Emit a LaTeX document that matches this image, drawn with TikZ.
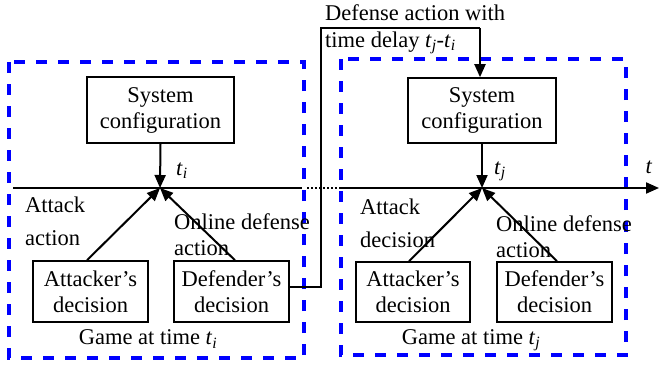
\documentclass[tikz,border=0pt]{standalone}
\usepackage{fontspec}
\setmainfont{Liberation Serif}
\usetikzlibrary{arrows.meta}
\newcommand\tsub[1]{\textit{t}\textsubscript{\textit{#1}}}
\begin{document}
\begin{tikzpicture}[x=1pt,y=-1pt,
  every node/.style={font=\fontsize{22.5}{26}\selectfont, inner sep=0pt},
  box/.style={draw, line width=1.6pt, align=center},
  gamebox/.style={draw=blue, line width=3.6pt, dash pattern=on 11pt off 11pt},
  arr/.style={line width=2pt, -{Triangle[length=13pt,width=11pt]}},
  ln/.style={line width=2pt},
  lbl/.style={align=left, anchor=west}]
\useasboundingbox (0,0) rectangle (660,367);
% game boxes
\draw[gamebox] (9,62) rectangle (304,358);
\draw[gamebox] (341,59) rectangle (626,355);
% time axis
\coordinate (a0) at (13,188);
\coordinate (a1) at (302,188);
\coordinate (a2) at (307,188);
\coordinate (a3) at (340,188);
\coordinate (a4) at (659,188);
\draw[ln] (a0) -- (a1);
\draw[line width=2pt, dotted] (a2) -- (a3);
\draw[arr] (a3) -- (a4);
\node (t) at (649,167) {\textit{t}};
% convergence points
\coordinate (cL) at (160,188);
\coordinate (cR) at (482,188);
% left game
\node[box, minimum width=147pt, minimum height=66pt] (sysL) at (160.5,110) {System\\configuration};
\node[box, minimum width=115pt, minimum height=61pt] (attL) at (90.5,291.5) {Attacker's\\decision};
\node[box, minimum width=115pt, minimum height=61pt] (defL) at (231.5,291.5) {Defender's\\decision};
\draw[arr] (sysL.south) -- (cL);
\draw[arr] (attL.north -| 87,0) -- (cL);
\draw[arr] (defL.north -| 235,0) -- (cL);
\node[anchor=west] (tiL) at (176,171) {\tsub{i}};
\node[lbl] (attlblL) at (25,221) {Attack\\[7pt]action};
\node[lbl] (deflblL) at (174,235) {Online defense\\action};
\node (gameL) at (148,339) {Game at time \tsub{i}};
% right game
\node[box, minimum width=148pt, minimum height=65pt] (sysR) at (482,110.5) {System\\configuration};
\node[box, minimum width=114pt, minimum height=60pt] (attR) at (413,292) {Attacker's\\decision};
\node[box, minimum width=115pt, minimum height=60pt] (defR) at (554.5,292) {Defender's\\decision};
\draw[arr] (sysR.south) -- (cR);
\draw[arr] (attR.north -| 409,0) -- (cR);
\draw[arr] (defR.north -| 557,0) -- (cR);
\node[anchor=west] (tjR) at (494,171) {\tsub{j}};
\node[lbl] (attlblR) at (360,223) {Attack\\[7pt]decision};
\node[lbl] (deflblR) at (496,237) {Online defense\\action};
\node (gameR) at (471,340) {Game at time \tsub{j}};
% defense action with delay
\coordinate (d1) at (321,287);
\coordinate (d2) at (321,28);
\coordinate (d3) at (480,28);
\draw[ln] (defL.east |- d1) -- (d1) -- (d2) -- (d3);
\draw[arr] (d3) -- (sysR.north -| d3);
\node[anchor=west] (dlbl1) at (325,13) {Defense action with};
\node[anchor=west] (dlbl2) at (325,43) {time delay \tsub{j}-\tsub{i}};
\end{tikzpicture}
\end{document}
